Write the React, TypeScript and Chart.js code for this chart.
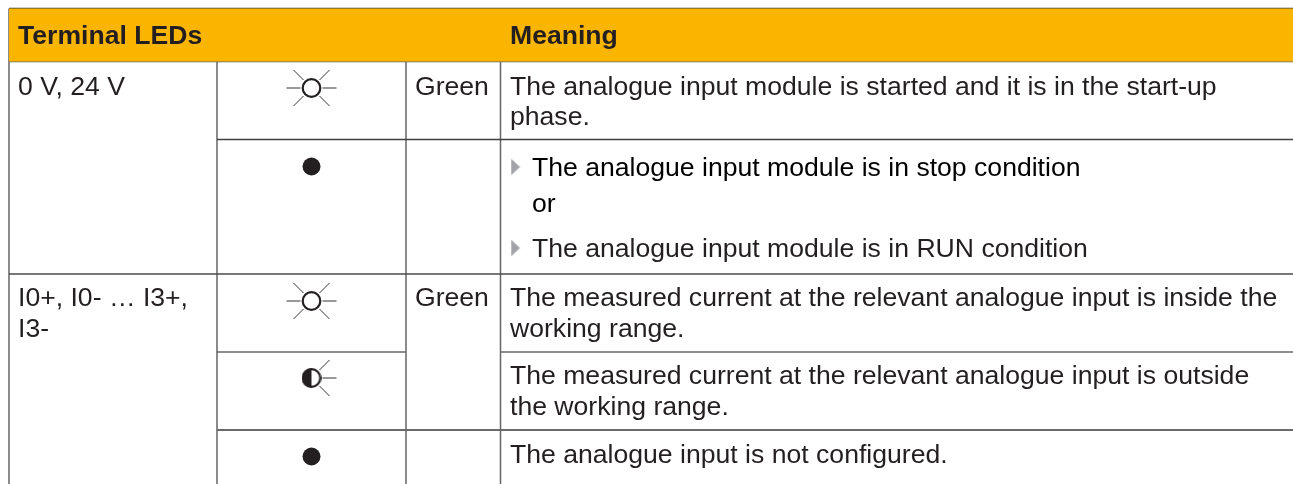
import React, { useEffect, useRef } from "react";
import { Chart, registerables } from "chart.js";

Chart.register(...registerables);

// Table content
const headers = ["Terminal LEDs", "Meaning"];
const terminals = [["0 V, 24 V"], ["I0+, I0- … I3+,", "I3-"]];
const colours = ["Green", "Green"];
const meaningsPlain = [
  "The analogue input module is started and it is in the start-up",
  "phase.",
  "The measured current at the relevant analogue input is inside the",
  "working range.",
  "The measured current at the relevant analogue input is outside",
  "the working range.",
  "The analogue input is not configured.",
];
const meaningsList = [
  "The analogue input module is in stop condition",
  "or",
  "The analogue input module is in RUN condition",
];

// Table geometry, in table units on the two linear scales
const W = 1293;
const H = 484;
const columnEdges = [9, 217, 406, 500.5, 1293];
const rowEdges = [8.5, 61.5, 139.5, 274, 352, 430, 484];

const sunRows = [88, 301];
const halfRows = [378];
const offRows = [166.5, 456.5];
const ledColumn = 311.5;
const bulletRows = [167, 248];
const bulletColumn = 515.5;

const line = (pts: { x: number; y: number }[], color: string, width: number, extra: object = {}) => ({
  type: "scatter" as const,
  data: pts,
  showLine: true,
  borderColor: color,
  borderWidth: width,
  pointRadius: 0,
  spanGaps: false,
  ...extra,
});

const gridColor = "#666666";
const ink = "#231f20";

const raysFor = (cx: number, cy: number, left: boolean) => {
  const out: any[] = [];
  const seg = (a: number, b: number, c: number, d: number) => {
    out.push({ x: cx + a, y: cy + b }, { x: cx + c, y: cy + d }, { x: NaN, y: NaN });
  };
  seg(11, 0, 25, 0);
  seg(8, -8, 18, -18);
  seg(8, 8, 18, 18);
  if (left) {
    seg(-11, 0, -25, 0);
    seg(-8, -8, -18, -18);
    seg(-8, 8, -18, 18);
  }
  return out;
};

const makeHalf = () => {
  const c = document.createElement("canvas");
  c.width = 20;
  c.height = 20;
  const g = c.getContext("2d")!;
  g.fillStyle = "#fff";
  g.beginPath();
  g.arc(10, 10, 9, 0, Math.PI * 2);
  g.fill();
  g.fillStyle = ink;
  g.beginPath();
  g.arc(10, 10, 9.8, Math.PI / 2, (Math.PI * 3) / 2);
  g.closePath();
  g.fill();
  g.strokeStyle = ink;
  g.lineWidth = 2.2;
  g.beginPath();
  g.arc(10, 10, 8.8, 0, Math.PI * 2);
  g.stroke();
  return c;
};

const makeBullet = () => {
  const c = document.createElement("canvas");
  c.width = 10;
  c.height = 18;
  const g = c.getContext("2d")!;
  g.fillStyle = "#a3a4a7";
  g.beginPath();
  g.moveTo(0.5, 0.5);
  g.lineTo(9.5, 9);
  g.lineTo(0.5, 17.5);
  g.closePath();
  g.fill();
  return c;
};

const textPlugin = {
  id: "tableText",
  afterDatasetsDraw(chart: any) {
    const { ctx, scales } = chart;
    const put = (s: string, x: number, y: number, font: string, color: string) => {
      ctx.font = font;
      ctx.fillStyle = color;
      ctx.textBaseline = "alphabetic";
      ctx.textAlign = "left";
      ctx.fillText(s, scales.x.getPixelForValue(x), scales.y.getPixelForValue(y));
    };
    const body = '26.6px "Liberation Sans"';
    const bold = 'bold 26.6px "Liberation Sans"';
    put(headers[0], 18, 44, bold, ink);
    put(headers[1], 510, 44, bold, ink);
    put(terminals[0][0], 18, 95, body, ink);
    put(terminals[1][0], 18, 306, body, ink);
    put(terminals[1][1], 18, 337, body, ink);
    put(colours[0], 415, 95, body, ink);
    put(colours[1], 415, 306, body, ink);
    const ys = [95, 125, 306, 337, 384, 415, 463];
    meaningsPlain.forEach((s, i) => put(s, 510, ys[i], body, ink));
    const ls = [176, 212, 257];
    meaningsList.forEach((s, i) => put(s, 532, ls[i], body, i === 2 ? ink : "#000"));
  },
};

export default function App() {
  const ref = useRef<HTMLCanvasElement>(null);
  useEffect(() => {
    const [c0, c1, c2, c3, c4] = columnEdges;
    const [r0, r1, r2, r3, r4, r5, r6] = rowEdges;
    const chart = new Chart(ref.current!, {
      type: "scatter",
      data: {
        datasets: [
          line([{ x: c0, y: r0 }, { x: c4, y: r0 }], "#f9b500", 0, {
            fill: { value: r1 },
            backgroundColor: "#f9b500",
            borderWidth: 0,
          }),
          line([{ x: c0, y: r0 }, { x: c4, y: r0 }], "#3c3c3c", 1.5),
          line([{ x: c0, y: r1 }, { x: c4, y: r1 }], gridColor, 1.5),
          line([{ x: c1, y: r2 }, { x: c4, y: r2 }], "#404040", 1.5),
          line([{ x: c0, y: r3 }, { x: c4, y: r3 }], "#4a4a4a", 1.5),
          line([{ x: c1, y: r4 }, { x: c2, y: r4 }], gridColor, 1.5),
          line([{ x: c3, y: r4 }, { x: c4, y: r4 }], gridColor, 1.5),
          line([{ x: c1, y: r5 }, { x: c4, y: r5 }], "#6a6a6a", 2),
          line([{ x: c0, y: r0 }, { x: c0, y: r6 }], gridColor, 1.5),
          line([{ x: c1, y: r1 }, { x: c1, y: r6 }], gridColor, 1.5),
          line([{ x: c2, y: r1 }, { x: c2, y: r6 }], gridColor, 1.5),
          line([{ x: c3, y: r0 }, { x: c3, y: r6 }], gridColor, 1.5),
          line(sunRows.flatMap((y) => raysFor(ledColumn, y, true)), "#333", 1),
          line(halfRows.flatMap((y) => raysFor(ledColumn, y, false)), "#333", 1),
          {
            type: "scatter",
            data: sunRows.map((y) => ({ x: ledColumn, y })),
            pointStyle: "circle",
            pointRadius: 8.8,
            pointBackgroundColor: "#fff",
            pointBorderColor: ink,
            pointBorderWidth: 2.2,
          },
          {
            type: "scatter",
            data: offRows.map((y) => ({ x: ledColumn, y })),
            pointStyle: "circle",
            pointRadius: 9,
            pointBackgroundColor: ink,
            pointBorderColor: ink,
            pointBorderWidth: 0,
          },
          {
            type: "scatter",
            data: halfRows.map((y) => ({ x: ledColumn, y })),
            pointStyle: makeHalf(),
            pointRadius: 10,
          },
          {
            type: "scatter",
            data: bulletRows.map((y) => ({ x: bulletColumn, y })),
            pointStyle: makeBullet(),
            pointRadius: 9,
          },
        ] as any,
      },
      options: {
        animation: false,
        responsive: false,
        events: [],
        layout: { padding: 0, autoPadding: false },
        plugins: { legend: { display: false }, tooltip: { enabled: false } },
        scales: {
          x: { type: "linear", min: 0, max: W, display: false },
          y: { type: "linear", min: 0, max: H, reverse: true, display: false },
        },
      },
      plugins: [textPlugin],
    });
    return () => chart.destroy();
  }, []);
  return (
    <div style={{ position: "absolute", left: 0, top: 0, width: W, height: H, background: "#fff" }}>
      <canvas ref={ref} width={W} height={H} style={{ display: "block" }} />
    </div>
  );
}
